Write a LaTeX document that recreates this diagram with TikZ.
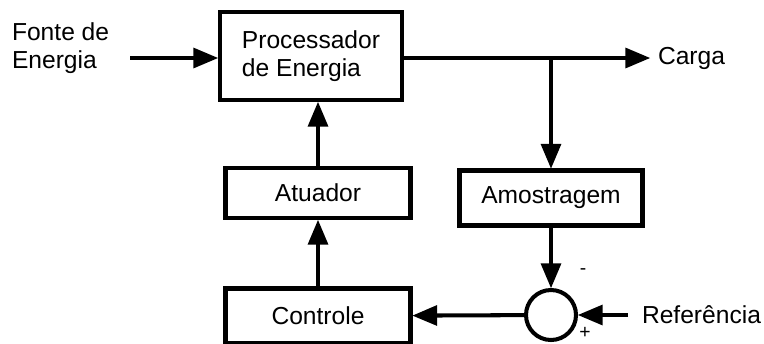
\documentclass[tikz,border=0pt]{standalone}
\usepackage{fontspec}
\setmainfont{Liberation Sans}
\usetikzlibrary{arrows,positioning}

\begin{document}
\begin{tikzpicture}[
			>=triangle 45,
			line width=2.3pt,
			every node/.style={font={\fontsize{14}{16}\selectfont}},
			bloco/.style={draw, rectangle, minimum width=3.7cm, minimum height=1.1cm, inner sep=0pt},
			soma/.style={draw, circle, minimum size=1.0cm, inner sep=0pt},
			sinal/.style={font={\fontsize{11}{12}\selectfont}, inner sep=0pt}
	]
	\useasboundingbox (0,0) rectangle (15.28,-6.86);

	% blocos
	\node [bloco, minimum width=3.64cm, minimum height=1.76cm, align=left] (proc) at (6.22,-1.12) {Processador\\de Energia};
	\node [bloco, minimum height=1.0cm] (atuador) at (6.36,-3.86) {Atuador};
	\node [bloco] (controle) at (6.36,-6.32) {Controle};
	\node [bloco, minimum width=3.66cm] (amost) at (11.02,-3.96) {Amostragem};
	\node [soma] (sum) at (11.02,-6.3) {};

	% textos
	\node [anchor=west, align=left, inner sep=0pt] (fonte) at (0.2,-0.97) {Fonte de\\Energia};
	\node [anchor=west, inner sep=0pt] (carga) at (13.12,-1.16) {Carga};
	\node [anchor=west, inner sep=0pt] (ref) at (12.8,-6.3) {Referência};
	\node [sinal] (menos) at (11.66,-5.44) {-};
	\node [sinal] (mais) at (11.7,-6.66) {+};

	\coordinate (in) at (2.6,-1.16);
	\coordinate (out) at (13.0,-1.16);
	\coordinate (ramo) at (11.02,-1.16);
	\coordinate (refin) at (12.56,-6.3);

	% ligacoes
	\draw [->] (in) -- (in -| proc.west);
	\draw [->] (in -| proc.east) -- (out);
	\draw [->] (ramo) -- (amost);
	\draw [->] (amost) -- (sum);
	\draw [->] (refin) -- (sum);
	\draw [->] (sum) -- (controle);
	\draw [->] (controle) -- (atuador);
	\draw [->] (atuador) -- (atuador |- proc.south);
\end{tikzpicture}
\end{document}
